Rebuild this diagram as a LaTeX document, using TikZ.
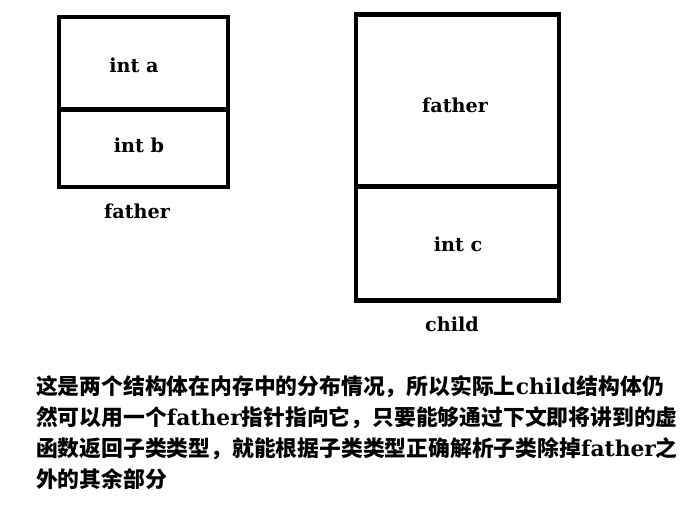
\documentclass[tikz,border=0pt]{standalone}
\usepackage{fontspec}
\setmainfont{DejaVu Serif}
\newfontfamily\cjk{Noto Sans CJK SC}

\begin{document}
\begin{tikzpicture}[x=1pt, y=-1pt]
%
% Skiss:
%  father        child
%  [int a]       [father]
%  [int b]       [int c ]
%  + note text below
%
% Styles
\tikzstyle{cell} = [rectangle, draw=black, line width=4.5pt, inner sep=0pt, outer sep=0pt]
\tikzstyle{field} = [font=\fontsize{19.2}{22}\selectfont\bfseries, inner sep=0pt, anchor=base]
\tikzstyle{note} = [font=\fontsize{21.8}{31}\selectfont\bfseries, text width=660pt, align=left, inner sep=0pt, anchor=base west]
% Canvas
\useasboundingbox (0,0) rectangle (697,505);
% Nodes
\node (inta_box) [cell, minimum width=169pt, minimum height=92.5pt] at (143.5,63.25) {};
\node (intb_box) [cell, minimum width=169pt, minimum height=77.5pt] at (143.5,148.25) {};
\node (father_box) [cell, minimum width=203pt, minimum height=172pt] at (457.5,100.5) {};
\node (intc_box) [cell, minimum width=203pt, minimum height=114pt] at (457.5,243.5) {};
\node (inta) [field] at (134,73) {int a};
\node (intb) [field] at (139,153) {int b};
\node (father_name) [field] at (137,219) {father};
\node (father_part) [field] at (455,113) {father};
\node (intc) [field] at (458,252) {int c};
\node (child_name) [field] at (452,332) {child};
\node (note_text) [note] at (36,395)
  {{\cjk 这是两个结构体在内存中的分布情况，所以实际上}child{\cjk 结构体仍}\\
   {\cjk 然可以用一个}father{\cjk 指针指向它，只要能够通过下文即将讲到的虚}\\
   {\cjk 函数返回子类类型，就能根据子类类型正确解析子类除掉}father{\cjk 之}\\
   {\cjk 外的其余部分}};
\end{tikzpicture}
\end{document}
